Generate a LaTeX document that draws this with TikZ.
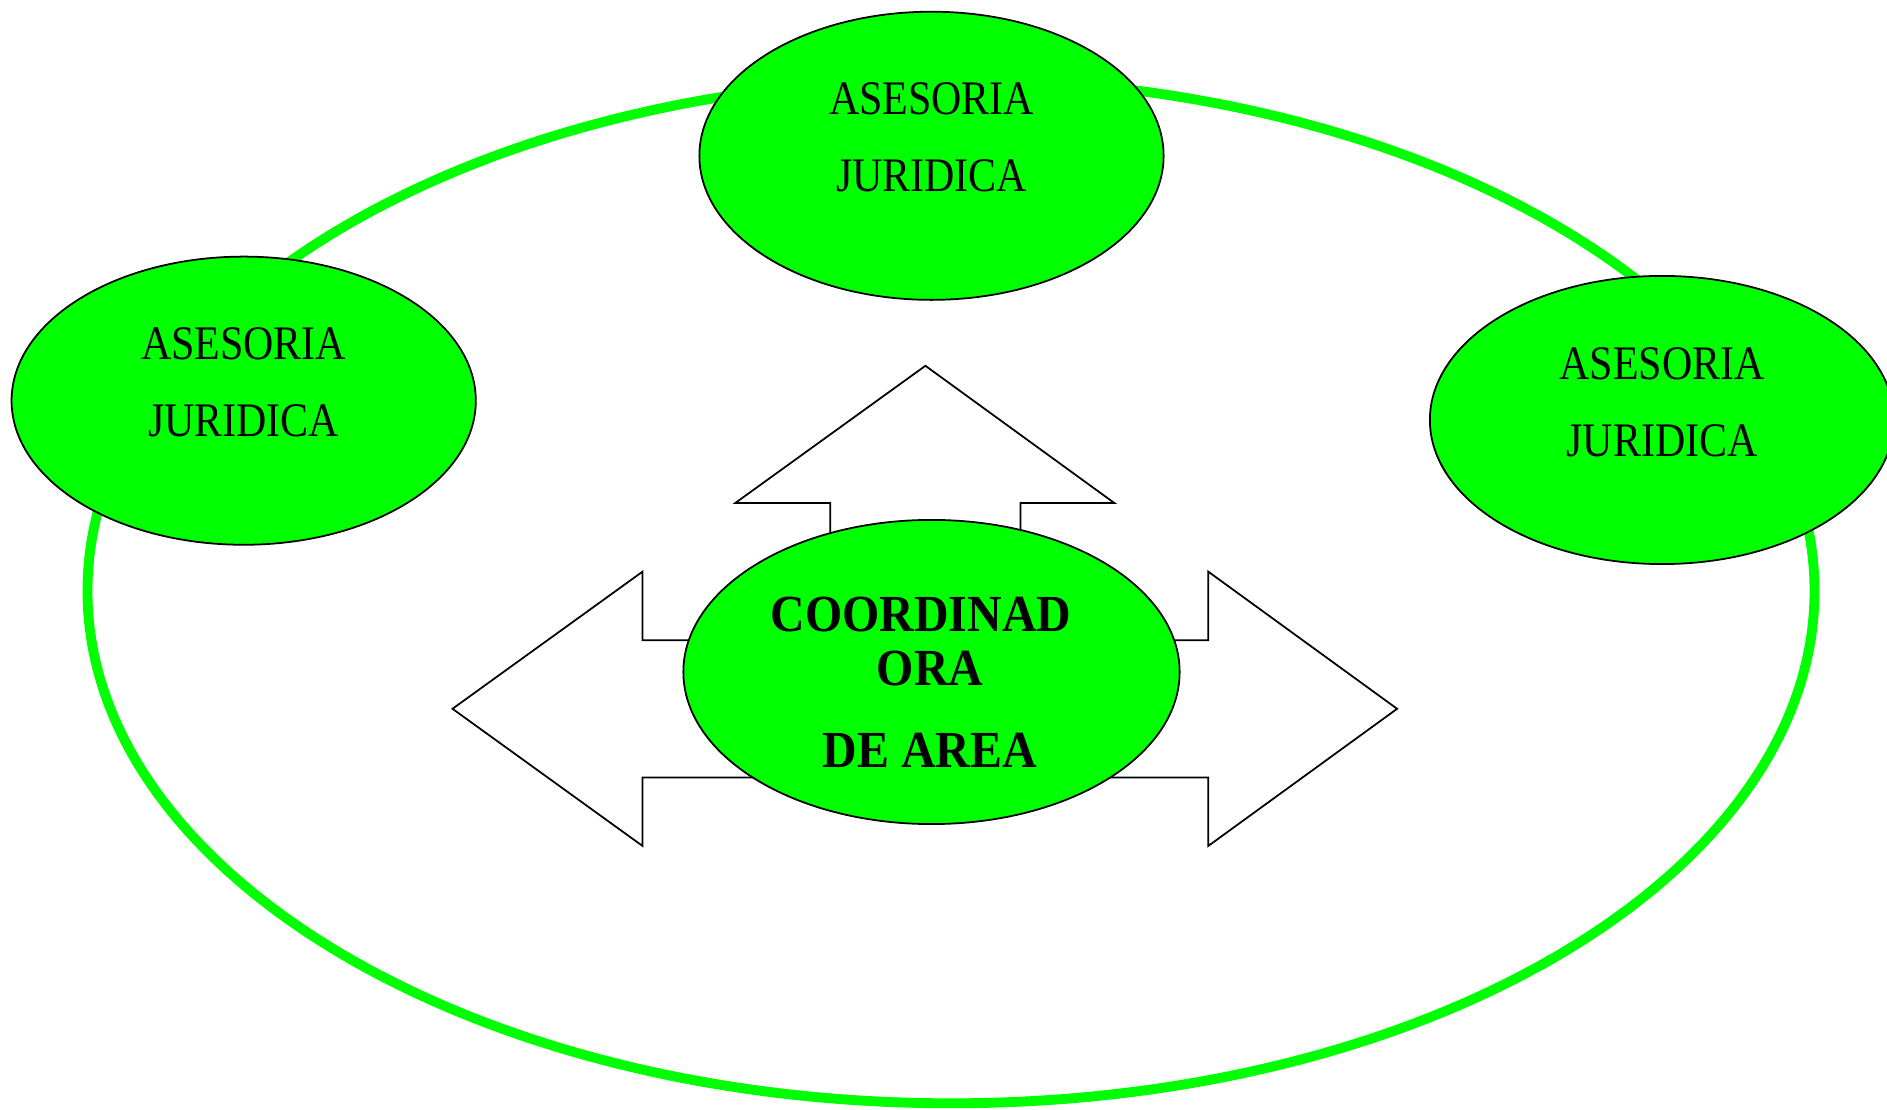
\documentclass[tikz,border=0pt]{standalone}
\usepackage{fontspec}
\usepackage{graphicx}
\setmainfont{Liberation Serif}
\usetikzlibrary{shapes.geometric}
\definecolor{vivid}{HTML}{00FF00}
\tikzset{
  unit/.style={ellipse, draw=black, line width=0.5pt, fill=vivid,
    minimum width=4.64cm, minimum height=2.88cm, inner sep=0pt},
  lbl/.style={inner sep=0pt, font=\fontsize{13.7pt}{16pt}\selectfont},
  blbl/.style={inner sep=0pt, font=\fontsize{14.8pt}{17pt}\selectfont\bfseries},
}
\newcommand{\narrow}[1]{\scalebox{0.87}[1]{#1}}
\newcommand{\bnarrow}[1]{\scalebox{0.92}[1]{#1}}
\begin{document}
\begin{tikzpicture}[x=0.01cm, y=-0.01cm]
  \useasboundingbox (0,0) rectangle (1887,1110);
  % outer ring
  \node[ellipse, draw=vivid, line width=2.8pt, minimum width=17.26cm,
        minimum height=10.24cm, inner sep=0pt] (ring) at (951,591) {};
  % three-way arrow behind the central unit
  \draw[fill=white, line width=0.5pt, line join=miter]
    (452.5,708.8) -- (642.6,571.6) -- (642.6,640.2) -- (830.3,640.2)
    -- (830.3,503.0) -- (735.3,503.0) -- (925.4,365.8) -- (1114.3,503.0)
    -- (1020.5,503.0) -- (1020.5,640.2) -- (1208.2,640.2) -- (1208.2,571.6)
    -- (1397.1,708.8) -- (1208.2,846.0) -- (1208.2,777.4) -- (642.6,777.4)
    -- (642.6,846.0) -- cycle;
  % units
  \node[unit] (top) at (931.5,155.8) {};
  \node[unit] (left) at (243.7,400.7) {};
  \node[unit] (right) at (1662,420) {};
  \node[unit, minimum width=4.96cm, minimum height=3.04cm] (centre) at (931.5,672) {};
  % labels
  \node[lbl] (topa) at (931.5,98.7) {\narrow{ASESORIA}};
  \node[lbl] (topb) at (931.5,175.7) {\narrow{JURIDICA}};
  \node[lbl] (lefta) at (243.7,344) {\narrow{ASESORIA}};
  \node[lbl] (leftb) at (243.7,421) {\narrow{JURIDICA}};
  \node[lbl] (righta) at (1662,363.4) {\narrow{ASESORIA}};
  \node[lbl] (rightb) at (1662,440.4) {\narrow{JURIDICA}};
  \node[blbl] (ca) at (921,615) {\bnarrow{COORDINAD}};
  \node[blbl] (cb) at (930,669) {\bnarrow{ORA}};
  \node[blbl] (cc) at (930,750) {\bnarrow{DE AREA}};
\end{tikzpicture}
\end{document}
